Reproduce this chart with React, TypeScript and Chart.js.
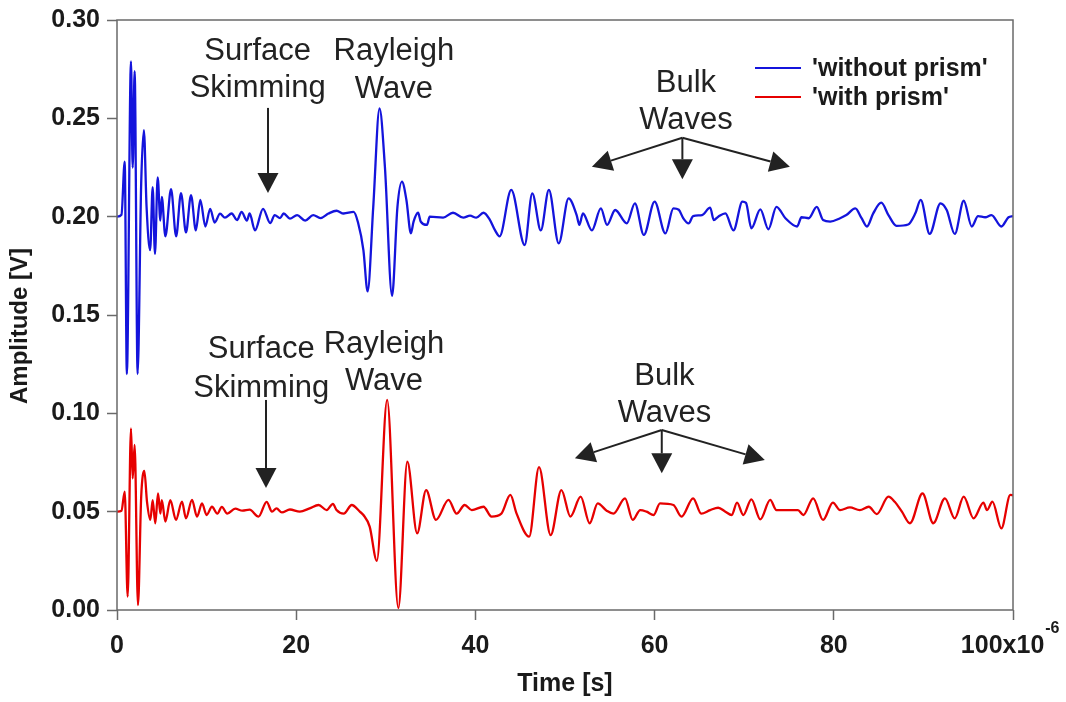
import React, { useEffect, useRef } from "react";
import { Chart, registerables } from "chart.js";

Chart.register(...registerables);

// ---------------- data ----------------
const seriesNames = ["'without prism'", "'with prism'"];
const seriesColors = ["#1414dc", "#e60000"];

const xTickValues = [0, 20, 40, 60, 80, 100];
const xTickLabels = ["0", "20", "40", "60", "80", "100x10"];
const xTickExponent = "-6";
const yTickValues = [0, 0.05, 0.1, 0.15, 0.2, 0.25, 0.3];
const xAxisTitle = "Time [s]";
const yAxisTitle = "Amplitude [V]";

// time in microseconds
const blueTime = [
  0, 0.5, 0.86, 1.1, 1.56, 1.75, 1.97, 2.3, 2.7, 3.0, 3.3, 3.7, 3.98, 4.24, 4.54, 4.84, 5.0, 5.4, 6.03, 6.6,
  7.14, 7.7, 8.26, 8.8, 9.3, 9.86, 10.4, 10.9, 11.5, 12.05, 12.8, 13.4, 13.9, 14.5, 14.8, 15.4, 16.3, 17.1, 17.6, 18.2,
  18.6, 19.3, 20.1, 21.0, 21.9, 22.7, 23.6, 24.5, 25.3, 26.4, 26.9, 27.5, 27.97, 28.6, 29.3, 29.9, 30.7, 31.3, 31.8, 32.3,
  32.8, 33.1, 33.6, 33.9, 34.6, 34.9, 36.4, 37.5, 38.65, 39.4, 40.1, 40.9, 41.6, 42.2, 42.7, 44.0, 45.5, 46.35, 47.3, 48.2,
  49.3, 50.4, 51.3, 51.6, 52.0, 53.0, 54.0, 54.7, 55.6, 56.9, 57.8, 58.8, 60.0, 61.2, 62.1, 62.7, 63.2, 63.8, 64.3, 65.3,
  66.2, 66.6, 67.1, 67.9, 68.8, 69.8, 70.2, 70.8, 71.8, 72.7, 73.6, 74.6, 75.9, 76.4, 77.2, 78.1, 78.8, 79.6, 80.7, 81.4,
  82.4, 83.1, 83.7, 84.4, 85.3, 86.1, 87.0, 88.3, 89.1, 89.7, 90.7, 91.9, 92.6, 93.5, 94.5, 95.4, 96.1, 96.9, 97.6, 98.7,
  99.5, 100,
];
const blueAmplitude = [
  0.2, 0.201, 0.228, 0.12, 0.279, 0.225, 0.274, 0.12, 0.217, 0.244, 0.205, 0.183, 0.215, 0.181, 0.22, 0.198, 0.21, 0.19, 0.214, 0.19,
  0.212, 0.192, 0.211, 0.193, 0.2085, 0.195, 0.204, 0.197, 0.2015, 0.1995, 0.2016, 0.1983, 0.2024, 0.198, 0.2016, 0.193, 0.204, 0.1967, 0.2008, 0.1993,
  0.2016, 0.199, 0.2008, 0.198, 0.2008, 0.1993, 0.2016, 0.203, 0.2016, 0.2024, 0.197, 0.183, 0.162, 0.205, 0.255, 0.2254, 0.1597, 0.205, 0.2178, 0.2085,
  0.1915, 0.1975, 0.202, 0.1975, 0.1958, 0.2, 0.1995, 0.202, 0.1995, 0.2005, 0.1995, 0.202, 0.1985, 0.193, 0.19, 0.2136, 0.1856, 0.2118, 0.193, 0.2136,
  0.1864, 0.2093, 0.2008, 0.1958, 0.2016, 0.193, 0.2042, 0.1958, 0.2034, 0.1966, 0.2068, 0.1907, 0.2076, 0.1915, 0.2042, 0.2035, 0.1992, 0.1966, 0.2003, 0.2008,
  0.2046, 0.1983, 0.2, 0.2017, 0.193, 0.2076, 0.207, 0.1941, 0.2037, 0.1936, 0.205, 0.1992, 0.195, 0.1997, 0.1992, 0.205, 0.1983, 0.1975, 0.1992, 0.2008,
  0.2042, 0.1992, 0.195, 0.2017, 0.2071, 0.2008, 0.1953, 0.196, 0.2017, 0.2085, 0.1912, 0.2068, 0.2034, 0.1912, 0.2081, 0.195, 0.2003, 0.1997, 0.2008, 0.195,
  0.1997, 0.2003,
];

const redTime = [
  0, 0.5, 0.86, 1.19, 1.56, 1.75, 1.97, 2.34, 2.7, 3.05, 3.35, 3.72, 3.98, 4.27, 4.58, 4.84, 5.0, 5.4, 5.95, 6.58,
  7.25, 7.7, 8.37, 8.93, 9.49, 10.0, 10.6, 11.2, 11.7, 12.3, 13.2, 14.0, 14.8, 15.8, 16.7, 17.3, 17.8, 18.4, 19.3, 20.4,
  21.5, 22.5, 23.4, 24.1, 24.5, 25.3, 26.2, 27.1, 27.5, 28.2, 29.0, 30.15, 31.4, 32.4, 33.5, 34.5, 35.6, 37.0, 37.9, 38.8,
  39.6, 40.9, 41.8, 42.9, 43.9, 44.6, 46.0, 47.1, 48.4, 49.6, 50.6, 51.75, 52.75, 53.65, 54.65, 55.4, 56.7, 57.55, 58.4, 59.1,
  59.9, 60.6, 62.1, 63.0, 64.3, 65.2, 66.2, 67.1, 67.9, 68.6, 69.2, 69.9, 70.8, 71.8, 72.9, 73.6, 75.1, 76.0, 76.6, 77.7,
  78.8, 79.9, 80.7, 81.8, 82.9, 83.9, 84.8, 86.1, 86.8, 87.6, 88.5, 89.9, 91.1, 92.4, 93.5, 94.5, 95.6, 96.7, 97.1, 97.7,
  98.7, 99.7, 100,
];
const redAmplitude = [
  0.05, 0.0505, 0.0602, 0.0068, 0.0924, 0.0669, 0.0839, 0.0025, 0.0576, 0.0707, 0.055, 0.0458, 0.0559, 0.0441, 0.0593, 0.049, 0.0559, 0.045, 0.0559, 0.0458,
  0.0551, 0.0466, 0.056, 0.0475, 0.0542, 0.0483, 0.0525, 0.049, 0.0524, 0.049, 0.0515, 0.0505, 0.051, 0.0475, 0.055, 0.05, 0.0517, 0.0496, 0.0511, 0.05,
  0.0517, 0.0534, 0.0508, 0.054, 0.0508, 0.049, 0.0534, 0.05, 0.0483, 0.0424, 0.025, 0.1068, 0.001, 0.0754, 0.039, 0.061, 0.0458, 0.056, 0.049, 0.0534,
  0.0508, 0.0525, 0.0475, 0.049, 0.0585, 0.049, 0.0373, 0.0726, 0.0381, 0.061, 0.0475, 0.0576, 0.0441, 0.0542, 0.0505, 0.049, 0.0568, 0.0458, 0.0508, 0.05,
  0.0483, 0.0542, 0.0534, 0.0475, 0.0568, 0.049, 0.0508, 0.052, 0.05, 0.0483, 0.0546, 0.0483, 0.0563, 0.0461, 0.056, 0.0508, 0.0508, 0.0508, 0.0483, 0.0568,
  0.0458, 0.0546, 0.0508, 0.0522, 0.0508, 0.0525, 0.0488, 0.0576, 0.055, 0.05, 0.0441, 0.0593, 0.0441, 0.0568, 0.0466, 0.0576, 0.0466, 0.0546, 0.0508, 0.0551,
  0.0415, 0.0585, 0.0583,
];

// annotation texts and arrows (data coordinates: time in µs, amplitude in V)
const annotationLabels = [
  { lines: ["Surface", "Skimming"], t: 15.7, v: [0.2797, 0.2608] },
  { lines: ["Rayleigh", "Wave"], t: 30.9, v: [0.2797, 0.2603] },
  { lines: ["Bulk", "Waves"], t: 63.5, v: [0.2634, 0.2446] },
  { lines: ["Surface", "Skimming"], t: 16.1, v: [0.128, 0.1085] },
  { lines: ["Rayleigh", "Wave"], t: 29.8, v: [0.1307, 0.1119] },
  { lines: ["Bulk", "Waves"], t: 61.1, v: [0.1144, 0.0957] },
];
const annotationArrows = [
  { from: [16.85, 0.2553], to: [16.85, 0.212] },
  { from: [63.1, 0.2401], to: [53.0, 0.2254] },
  { from: [63.1, 0.2401], to: [63.1, 0.219] },
  { from: [63.1, 0.2401], to: [75.1, 0.2254] },
  { from: [16.63, 0.1068], to: [16.63, 0.062] },
  { from: [60.8, 0.0915], to: [51.1, 0.0771] },
  { from: [60.8, 0.0915], to: [60.8, 0.0695] },
  { from: [60.8, 0.0915], to: [72.3, 0.0763] },
];

// ---------------- styles ----------------
const FONT = "'Liberation Sans', Arial, Helvetica, sans-serif";
const TEXT = "#1a1a1a";
const FRAME = "#6a6a6a";
const TICK_SIZE = 25;
const LAST_PAD = "   ";

function drawArrow(ctx: CanvasRenderingContext2D, x1: number, y1: number, x2: number, y2: number) {
  const headLen = 20;
  const headHalf = 10.5;
  const dx = x2 - x1;
  const dy = y2 - y1;
  const len = Math.hypot(dx, dy);
  const ux = dx / len;
  const uy = dy / len;
  const bx = x2 - ux * headLen;
  const by = y2 - uy * headLen;
  ctx.beginPath();
  ctx.moveTo(x1, y1);
  ctx.lineTo(bx, by);
  ctx.stroke();
  ctx.beginPath();
  ctx.moveTo(x2, y2);
  ctx.lineTo(bx - uy * headHalf, by + ux * headHalf);
  ctx.lineTo(bx + uy * headHalf, by - ux * headHalf);
  ctx.closePath();
  ctx.fill();
}

const decorPlugin = {
  id: "decor",
  afterDraw(chart: any) {
    const { ctx, chartArea, scales } = chart;
    const xs = scales.x;
    const ys = scales.y;
    ctx.save();
    // frame
    ctx.strokeStyle = FRAME;
    ctx.lineWidth = 1.5;
    ctx.strokeRect(chartArea.left, chartArea.top, chartArea.right - chartArea.left, chartArea.bottom - chartArea.top);

    // y axis title
    ctx.save();
    ctx.translate(20, (chartArea.top + chartArea.bottom) / 2 + 11);
    ctx.rotate(-Math.PI / 2);
    ctx.font = `bold 24px ${FONT}`;
    ctx.fillStyle = TEXT;
    ctx.textAlign = "center";
    ctx.textBaseline = "middle";
    ctx.fillText(yAxisTitle, 0, 0);
    ctx.restore();

    // annotation text
    ctx.fillStyle = "#222";
    ctx.font = `31px ${FONT}`;
    ctx.textAlign = "center";
    ctx.textBaseline = "alphabetic";
    for (const a of annotationLabels) {
      const x = xs.getPixelForValue(a.t);
      a.lines.forEach((line, i) => ctx.fillText(line, x, ys.getPixelForValue(a.v[i])));
    }
    // arrows
    ctx.strokeStyle = "#222";
    ctx.fillStyle = "#222";
    ctx.lineWidth = 2;
    for (const ar of annotationArrows) {
      drawArrow(
        ctx,
        xs.getPixelForValue(ar.from[0]),
        ys.getPixelForValue(ar.from[1]),
        xs.getPixelForValue(ar.to[0]),
        ys.getPixelForValue(ar.to[1])
      );
    }

    // legend
    const lx = chartArea.right - 258;
    const ly = chartArea.top + 48;
    ctx.font = `bold 25px ${FONT}`;
    ctx.textAlign = "left";
    ctx.textBaseline = "middle";
    seriesNames.forEach((name, i) => {
      const y = ly + i * 29;
      ctx.strokeStyle = seriesColors[i];
      ctx.lineWidth = 2;
      ctx.beginPath();
      ctx.moveTo(lx, y);
      ctx.lineTo(lx + 46, y);
      ctx.stroke();
      ctx.fillStyle = TEXT;
      ctx.fillText(name, lx + 57, y + 1);
    });

    // exponent on last x tick label
    ctx.font = `bold ${TICK_SIZE}px ${FONT}`;
    const lastLabel = xTickLabels[xTickLabels.length - 1];
    const full = ctx.measureText(lastLabel + LAST_PAD).width;
    const visible = ctx.measureText(lastLabel).width;
    const tx = xs.getPixelForValue(xTickValues[xTickValues.length - 1]) - full / 2 + visible + 1;
    ctx.font = `bold 16px ${FONT}`;
    ctx.fillStyle = TEXT;
    ctx.textAlign = "left";
    ctx.textBaseline = "middle";
    ctx.fillText(xTickExponent, tx, chartArea.bottom + 19);
    ctx.restore();
  },
};

export default function App() {
  const canvasRef = useRef<HTMLCanvasElement | null>(null);

  useEffect(() => {
    const canvas = canvasRef.current;
    if (!canvas) return;
    const blue = blueTime.map((t, i) => ({ x: t, y: blueAmplitude[i] }));
    const red = redTime.map((t, i) => ({ x: t, y: redAmplitude[i] }));
    const chart = new Chart(canvas, {
      type: "line",
      data: {
        datasets: [
          {
            label: seriesNames[0],
            data: blue,
            borderColor: seriesColors[0],
            borderWidth: 2.3,
            pointRadius: 0,
            cubicInterpolationMode: "monotone",
            fill: false,
          },
          {
            label: seriesNames[1],
            data: red,
            borderColor: seriesColors[1],
            borderWidth: 2.3,
            pointRadius: 0,
            cubicInterpolationMode: "monotone",
            fill: false,
          },
        ],
      },
      options: {
        animation: false,
        responsive: false,
        devicePixelRatio: 1,
        layout: { padding: { top: 20, right: 53, left: 0, bottom: 0 } },
        plugins: { legend: { display: false }, tooltip: { enabled: false } },
        scales: {
          x: {
            type: "linear",
            min: 0,
            max: 100,
            afterFit: (s: any) => {
              s.height = 92;
              s.paddingLeft = 0;
              s.paddingRight = 0;
            },
            afterBuildTicks: (s: any) => {
              s.ticks = xTickValues.map((v) => ({ value: v }));
            },
            ticks: {
              autoSkip: false,
              maxRotation: 0,
              padding: 11,
              color: TEXT,
              font: { family: FONT, size: TICK_SIZE, weight: "bold" },
              callback: (v: any) => {
                const i = xTickValues.indexOf(Number(v));
                if (i < 0) return "";
                return i === xTickValues.length - 1 ? xTickLabels[i] + LAST_PAD : xTickLabels[i];
              },
            },
            grid: { display: true, drawOnChartArea: false, drawTicks: true, tickLength: 10, tickColor: FRAME, tickWidth: 1.5 },
            border: { display: false },
            title: {
              display: true,
              text: xAxisTitle,
              color: TEXT,
              font: { family: FONT, size: 25, weight: "bold" },
              padding: { top: 0, bottom: 3 },
            },
          },
          y: {
            type: "linear",
            min: 0,
            max: 0.3,
            afterFit: (s: any) => {
              s.width = 117;
              s.paddingTop = 0;
              s.paddingBottom = 0;
            },
            afterBuildTicks: (s: any) => {
              s.ticks = yTickValues.map((v) => ({ value: v }));
            },
            ticks: {
              padding: 7,
              color: TEXT,
              font: { family: FONT, size: TICK_SIZE, weight: "bold" },
              callback: (v: any) => Number(v).toFixed(2),
            },
            grid: { display: true, drawOnChartArea: false, drawTicks: true, tickLength: 10, tickColor: FRAME, tickWidth: 1.5 },
            border: { display: false },
            title: { display: false },
          },
        },
      },
      plugins: [decorPlugin],
    } as any);
    return () => chart.destroy();
  }, []);

  return (
    <div style={{ position: "fixed", left: 0, top: 0, width: 1066, height: 702, background: "#fff" }}>
      <canvas ref={canvasRef} width={1066} height={702} style={{ display: "block" }} />
    </div>
  );
}
